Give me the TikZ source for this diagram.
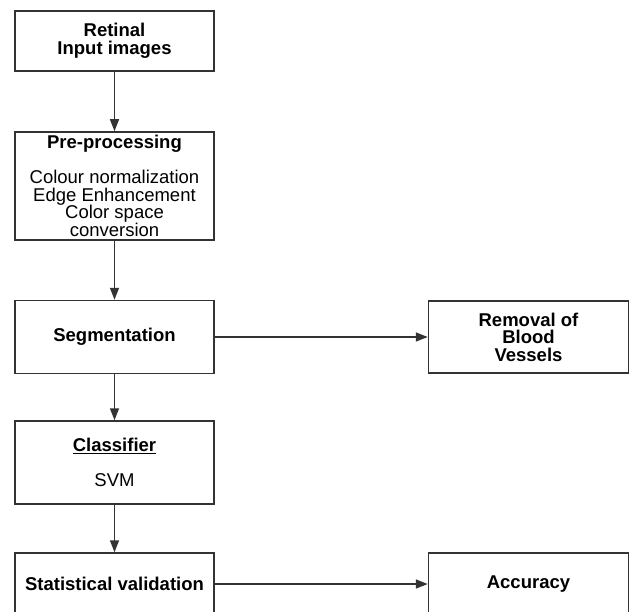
\documentclass[tikz,border=0pt]{standalone}
\usepackage{fontspec}
\setmainfont{Liberation Sans}
\usetikzlibrary{arrows.meta}
\definecolor{edge}{HTML}{333333}
\begin{document}
\begin{tikzpicture}[x=1pt,y=-1pt,
  box/.style={draw=edge,line width=1.5pt,fill=white,inner sep=0pt,align=center,
    font=\fontsize{18.5}{17.5}\selectfont},
  lbox/.style={box,minimum width=199pt},
  rbox/.style={box,minimum width=200pt},
  conn/.style={draw=edge,line width=1.6pt,-{Triangle[length=12pt,width=9pt]}}]
\useasboundingbox[fill=white] (0,0) rectangle (634,612);
\node[lbox,minimum height=60pt] (inp) at (114.5,41) {\textbf{Retinal}\\\textbf{Input images}};
\node[lbox,minimum height=108pt] (pre) at (114.5,186) {\textbf{Pre-processing}\\[17.5pt]Colour normalization\\Edge Enhancement\\Color space\\conversion};
\node[lbox,minimum height=73pt] (seg) at (114.5,337) {\textbf{Segmentation}};
\node[rbox,minimum height=72pt] (rem) at (528.5,337) {\textbf{Removal of}\\\textbf{Blood}\\\textbf{Vessels}};
\node[lbox,minimum height=83pt] (cls) at (114.5,462.5) {\underline{\textbf{Classifier}}\\[17.5pt]SVM};
\node[lbox,minimum height=62pt] (stat) at (114.5,584) {\textbf{Statistical validation}};
\node[rbox,minimum height=62pt] (acc) at (528.5,584) {\textbf{Accuracy}};
\draw[conn] (inp) -- (pre);
\draw[conn] (pre) -- (seg);
\draw[conn] (seg) -- (rem);
\draw[conn] (seg) -- (cls);
\draw[conn] (cls) -- (stat);
\draw[conn] (stat) -- (acc);
\end{tikzpicture}
\end{document}
